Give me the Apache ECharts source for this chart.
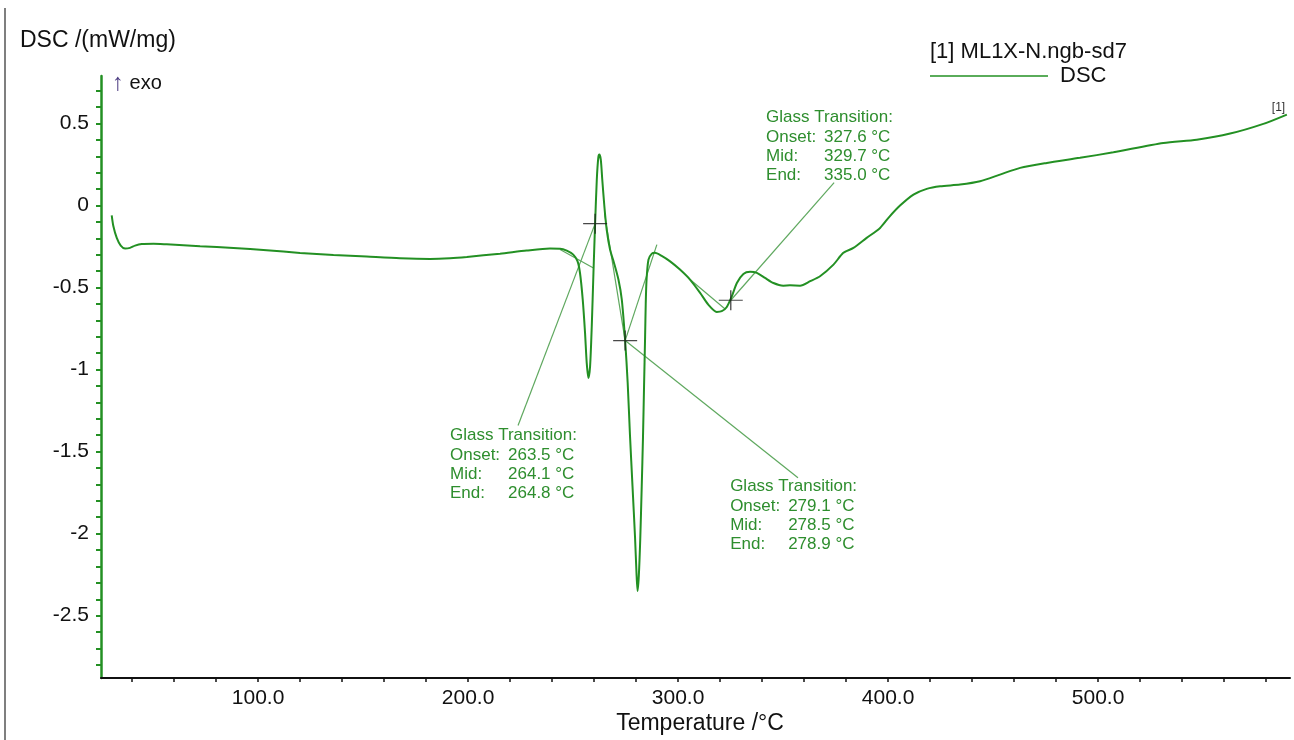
<!DOCTYPE html>
<html><head><meta charset="utf-8">
<script src="https://cdn.jsdelivr.net/npm/echarts@6/dist/echarts.min.js"></script>
<style>html,body{margin:0;padding:0;background:#fff}#c{width:1294px;height:740px}</style>
</head><body><div id="c"></div><script>
// ---- data ----
const temperature = [30.3,31.1,32.7,34.6,36.7,39.0,41.4,44.6,50.2,56.5,72.4,88.3,104.1,120.0,135.9,151.7,167.6,181.9,191.4,199.4,215.2,227.9,239.0,243.8,247.0,250.1,252.1,253.3,254.6,255.7,256.5,257.3,258.1,258.9,259.7,260.5,261.3,262.0,262.5,263.2,263.9,264.9,266.0,267.6,269.5,271.6,273.2,274.8,276.0,277.1,278.3,279.5,280.2,280.7,281.3,282.0,282.7,283.3,283.8,284.3,284.6,285.0,285.9,287.5,289.0,292.0,296.2,300.9,305.7,310.5,314.4,318.4,320.8,323.2,325.6,328.0,331.1,334.3,337.5,341.4,345.4,350.1,353.3,358.1,362.9,367.6,374.0,378.7,383.5,389.8,396.2,400.5,405.7,412.1,418.4,424.8,434.3,443.8,453.3,462.9,475.6,491.4,507.3,531.1,547.0,562.9,578.7,589.9];
const dsc = [-0.059,-0.126,-0.197,-0.244,-0.262,-0.258,-0.244,-0.234,-0.232,-0.236,-0.248,-0.258,-0.272,-0.289,-0.301,-0.311,-0.321,-0.325,-0.321,-0.313,-0.293,-0.274,-0.262,-0.263,-0.275,-0.299,-0.339,-0.411,-0.573,-0.776,-0.959,-1.051,-0.98,-0.736,-0.411,-0.106,0.159,0.291,0.311,0.28,0.159,-0.004,-0.146,-0.268,-0.35,-0.451,-0.573,-0.823,-1.08,-1.40,-1.71,-2.02,-2.24,-2.35,-2.26,-2.03,-1.71,-1.41,-1.10,-0.80,-0.60,-0.45,-0.33,-0.293,-0.288,-0.305,-0.34,-0.39,-0.451,-0.532,-0.604,-0.648,-0.644,-0.618,-0.553,-0.472,-0.417,-0.404,-0.41,-0.441,-0.472,-0.488,-0.486,-0.488,-0.461,-0.431,-0.36,-0.288,-0.258,-0.197,-0.136,-0.07,0.0,0.067,0.102,0.118,0.128,0.148,0.189,0.23,0.26,0.291,0.325,0.382,0.402,0.439,0.498,0.555];

const xTickValues = [40,60,80,100,120,140,160,180,200,220,240,260,280,300,320,340,360,380,400,420,440,460,480,500,520,540,560,580];
const xLabelValues = [100,200,300,400,500];
const yTickValues = [-2.8,-2.7,-2.6,-2.5,-2.4,-2.3,-2.2,-2.1,-2,-1.9,-1.8,-1.7,-1.6,-1.5,-1.4,-1.3,-1.2,-1.1,-1,-0.9,-0.8,-0.7,-0.6,-0.5,-0.4,-0.3,-0.2,-0.1,0,0.1,0.2,0.3,0.4,0.5,0.6,0.7];
const yLabelValues = [-2.5,-2,-1.5,-1,-0.5,0,0.5];

const crosshairs = [[260.5,-0.11],[274.8,-0.823],[325.1,-0.577]];
const tangentLines = [
  [[243.8,-0.268],[259.7,-0.38]],
  [[223.8,-1.341],[260.5,-0.11]],
  [[265.0,-0.05],[274.8,-0.823]],
  [[274.8,-0.823],[289.9,-0.238]],
  [[274.8,-0.823],[357.1,-1.659]],
  [[305.7,-0.451],[322.4,-0.63]],
  [[325.1,-0.577],[374.3,0.14]]
];
const annotationAnchors = [[191.4,-1.402],[324.8,-1.713],[341.9,0.537]];
const annotationValues = [
  ['263.5 °C','264.1 °C','264.8 °C'],
  ['279.1 °C','278.5 °C','278.9 °C'],
  ['327.6 °C','329.7 °C','335.0 °C']
];
const annotationKeys = ['Onset:','Mid:','End:'];

const xMin = 25.2, xMax = 591.4, yMin = -2.88, yMax = 0.79;
const GREEN = '#239023', TXTGREEN = '#2e8e2e', FONT = '"Liberation Sans", Arial, sans-serif';

const chart = echarts.init(document.getElementById('c'));
const series = [];
tangentLines.forEach(seg => series.push({
  type:'line', data: seg, symbol:'none', silent:true,
  lineStyle:{color:'#5fa85f', width:1.2}, z:2
}));
series.push({
  type:'line', name:'DSC', data: temperature.map((t,i)=>[t,dsc[i]]),
  symbol:'none', smooth:0.25, lineStyle:{color:GREEN, width:2}, z:3
});
series.push({
  type:'scatter', data: crosshairs, symbol:'path://M0,10H24M12,0V20', symbolSize:[24,20],
  itemStyle:{color:'none', borderColor:'#1a1a1a', borderWidth:1.2}, z:4, silent:true
});

chart.setOption({
  animation:false,
  backgroundColor:'#fff',
  grid:{left:101, right:4, top:76, bottom:62},
  xAxis:{
    type:'value', min:xMin, max:xMax,
    axisLine:{show:true, onZero:false, lineStyle:{color:'#111', width:2}},
    axisTick:{show:true, length:4, customValues:xTickValues, lineStyle:{color:'#111', width:1.5}},
    axisLabel:{customValues:xLabelValues, formatter:v=>v.toFixed(1), fontFamily:FONT, fontSize:21, color:'#111', margin:10},
    splitLine:{show:false}
  },
  yAxis:{
    type:'value', min:yMin, max:yMax,
    axisLine:{show:true, onZero:false, lineStyle:{color:GREEN, width:2.5}},
    axisTick:{show:true, length:5, customValues:yTickValues, lineStyle:{color:GREEN, width:2}},
    axisLabel:{customValues:yLabelValues, formatter:v=>String(v), fontFamily:FONT, fontSize:21, color:'#111', margin:12},
    splitLine:{show:false}
  },
  series
});

const g = [];
// frame line at the left edge
g.push({type:'line', shape:{x1:5,y1:8,x2:5,y2:740}, style:{stroke:'#555', lineWidth:1.5}});
g.push({type:'text', left:20, top:29, style:{text:'DSC /(mW/mg)', font:'23px '+FONT, fill:'#111'}});
g.push({type:'text', left:112, top:71, style:{text:'{a|↑} exo', font:'20px '+FONT, fill:'#111', rich:{a:{fill:'#4a3a80', font:'24px '+FONT}}}});
g.push({type:'text', x:700, y:724, style:{text:'Temperature /°C', font:'23px '+FONT, fill:'#111', align:'center', verticalAlign:'middle'}});
// legend
g.push({type:'text', x:930, y:52, style:{text:'[1] ML1X-N.ngb-sd7', font:'22px '+FONT, fill:'#111', verticalAlign:'middle'}});
g.push({type:'line', shape:{x1:930,y1:76,x2:1048,y2:76}, style:{stroke:GREEN, lineWidth:1.5}});
g.push({type:'text', x:1060, y:76, style:{text:'DSC', font:'22px '+FONT, fill:'#111', verticalAlign:'middle'}});
// curve end tag
const endPx = chart.convertToPixel({gridIndex:0}, [temperature[temperature.length-1], dsc[dsc.length-1]]);
g.push({type:'text', x:endPx[0]-15, y:endPx[1]-1, style:{text:'[1]', font:'12px '+FONT, fill:'#333', verticalAlign:'bottom'}});
// annotations
annotationAnchors.forEach((a,k)=>{
  const p = chart.convertToPixel({gridIndex:0}, a);
  const lh = 19.4;
  g.push({type:'text', x:p[0], y:p[1], style:{text:'Glass Transition:', font:'17px '+FONT, fill:TXTGREEN, verticalAlign:'middle'}});
  annotationKeys.forEach((key,i)=>{
    g.push({type:'text', x:p[0], y:p[1]+lh*(i+1), style:{text:key, font:'17px '+FONT, fill:TXTGREEN, verticalAlign:'middle'}});
    g.push({type:'text', x:p[0]+58, y:p[1]+lh*(i+1), style:{text:annotationValues[k][i], font:'17px '+FONT, fill:TXTGREEN, verticalAlign:'middle'}});
  });
});
chart.setOption({graphic:g});
</script></body></html>
